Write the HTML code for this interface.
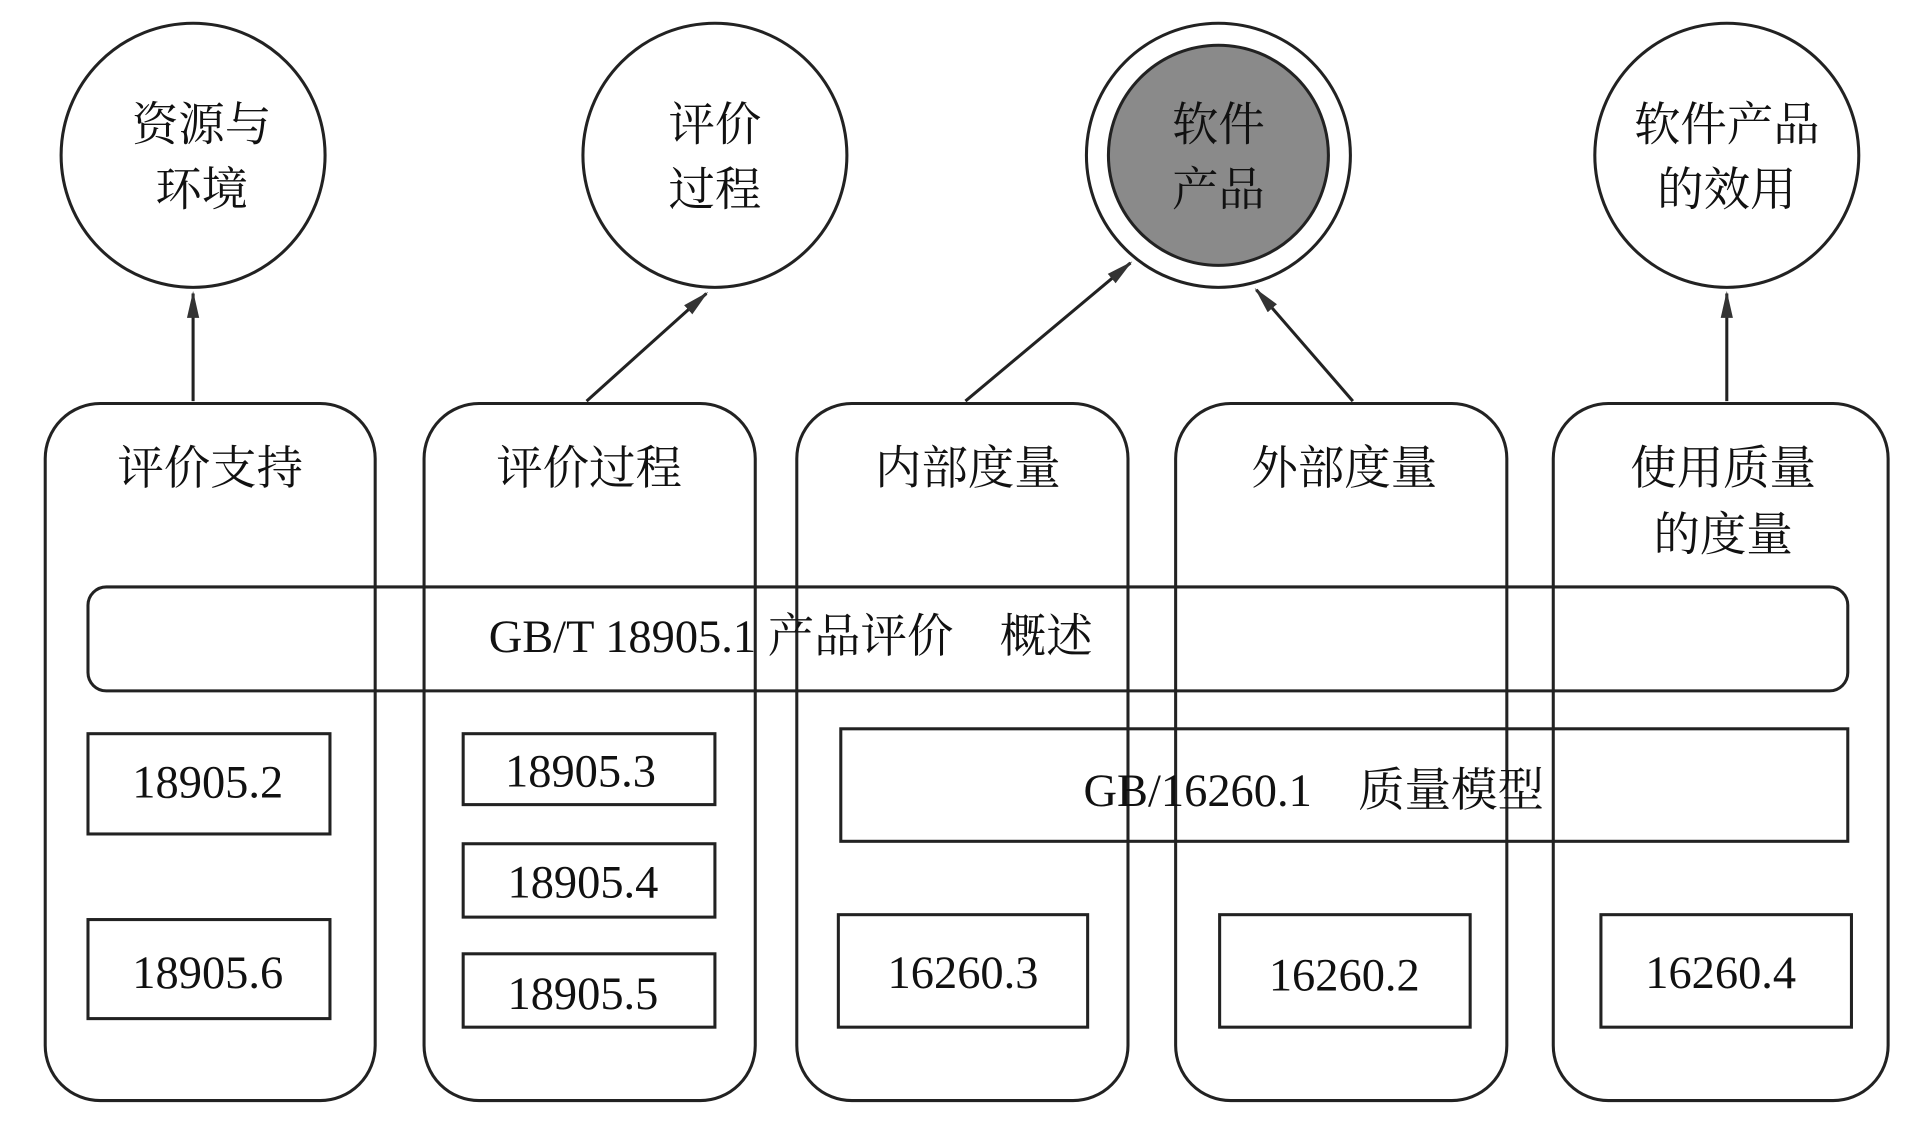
<!DOCTYPE html>
<html><head><meta charset="utf-8"><style>
html,body{margin:0;padding:0;background:#fff;}
svg{display:block;}
text{font-family:"Liberation Serif","Noto Serif CJK SC",serif;fill:#111;}
</style></head><body>
<svg width="1915" height="1125" viewBox="0 0 1567 920" preserveAspectRatio="none" xmlns="http://www.w3.org/2000/svg">
<defs>
<marker id="b" markerWidth="22" markerHeight="22" refX="20" refY="8" orient="auto" markerUnits="userSpaceOnUse" viewBox="0 0 22 16"><path d="M0,3 L22,8 L0,13 z" fill="#333"/></marker></defs>
<g fill="none" stroke="#222" stroke-width="2.5">
<circle cx="158" cy="127" r="108"/>
<circle cx="585" cy="127" r="108"/>
<circle cx="997" cy="127" r="108"/>
<circle cx="997" cy="127" r="90" fill="#8a8a8a"/>
<circle cx="1413" cy="127" r="108"/>
<line x1="158" y1="328" x2="158" y2="240" marker-end="url(#b)"/>
<line x1="480" y1="328" x2="578" y2="240" marker-end="url(#b)"/>
<line x1="790" y1="328" x2="925" y2="215" marker-end="url(#b)"/>
<line x1="1107" y1="328" x2="1028" y2="237" marker-end="url(#b)"/>
<line x1="1413" y1="328" x2="1413" y2="240" marker-end="url(#b)"/>
<rect x="37" y="330" width="270" height="570" rx="45"/>
<rect x="347" y="330" width="271" height="570" rx="45"/>
<rect x="652" y="330" width="271" height="570" rx="45"/>
<rect x="962" y="330" width="271" height="570" rx="45"/>
<rect x="1271" y="330" width="274" height="570" rx="45"/>
<rect x="72" y="480" width="1440" height="85" rx="15"/>
<rect x="72" y="600" width="198" height="82"/>
<rect x="72" y="752" width="198" height="81"/>
<rect x="379" y="600" width="206" height="58"/>
<rect x="379" y="690" width="206" height="60"/>
<rect x="379" y="780" width="206" height="60"/>
<rect x="688" y="596" width="824" height="92"/>
<rect x="686" y="748" width="204" height="92"/>
<rect x="998" y="748" width="205" height="92"/>
<rect x="1310" y="748" width="205" height="92"/>
</g>
<g font-size="38" text-anchor="middle">
<text x="165" y="115">资源与</text><text x="165" y="168">环境</text>
<text x="585" y="115">评价</text><text x="585" y="168">过程</text>
<text x="997" y="115" fill="#333">软件</text><text x="997" y="168" fill="#333">产品</text>
<text x="1413" y="115">软件产品</text><text x="1413" y="168">的效用</text>
<text x="172" y="396">评价支持</text>
<text x="482" y="396">评价过程</text>
<text x="792" y="396">内部度量</text>
<text x="1100" y="396">外部度量</text>
<text x="1410" y="396">使用质量</text><text x="1410" y="450">的度量</text>
<text x="647" y="533">GB/T 18905.1 产品评价　概述</text>
<text x="170" y="652">18905.2</text>
<text x="170" y="808">18905.6</text>
<text x="475" y="643">18905.3</text>
<text x="477" y="734">18905.4</text>
<text x="477" y="825">18905.5</text>
<text x="1075" y="659">GB/16260.1　质量模型</text>
<text x="788" y="808">16260.3</text>
<text x="1100" y="810">16260.2</text>
<text x="1408" y="808">16260.4</text>
</g>
</svg>
</body></html>
